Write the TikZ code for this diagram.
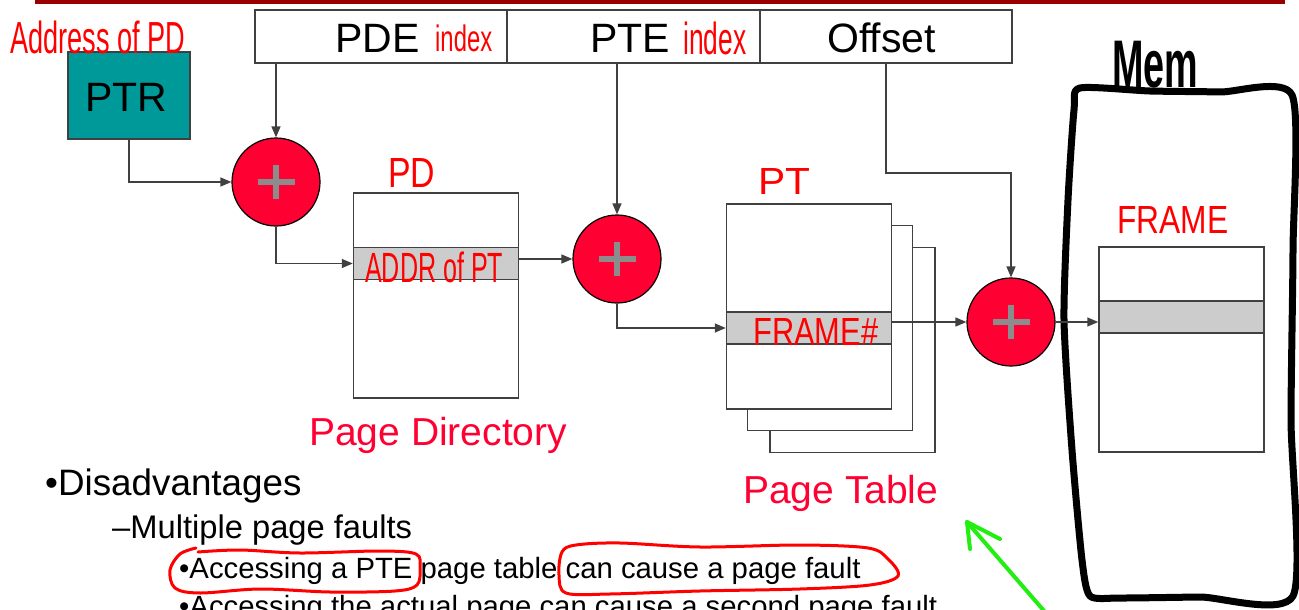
\documentclass[tikz,border=0pt]{standalone}
\usepackage{fontspec}
\setmainfont{Liberation Sans}
\usetikzlibrary{arrows.meta,calc}
\definecolor{barred}{HTML}{990000}
\definecolor{ptrteal}{HTML}{009999}
\definecolor{addred}{HTML}{FF0033}
\definecolor{plusgray}{HTML}{8C8C8C}
\definecolor{rowgray}{HTML}{CCCCCC}
\definecolor{edgegray}{HTML}{404040}
\definecolor{labelred}{HTML}{FF0033}
\definecolor{inkred}{HTML}{FF0000}
\definecolor{inkgreen}{HTML}{22EE11}
\newcommand\fsz[1]{\fontsize{#1}{#1}\selectfont}
% hand-written annotation squeezed into a given box
\newcommand\scribble[3]{\resizebox*{#1}{#2}{#3}}
\begin{document}
\begin{tikzpicture}[x=1pt,y=-1pt,
  field/.style={draw=edgegray,line width=1.5pt,fill=white,inner sep=0pt},
  tablebox/.style={draw=edgegray,line width=1.5pt,fill=white,inner sep=0pt,minimum width=165pt,minimum height=205pt},
  rowbox/.style={draw=edgegray,line width=1.5pt,fill=rowgray,inner sep=0pt,minimum width=165pt,minimum height=32pt},
  adder/.style={circle,draw=black,line width=1.2pt,fill=addred,minimum size=88pt,inner sep=0pt,
    path picture={
      \fill[plusgray] ([xshift=-18.5pt,yshift=-3pt]path picture bounding box.center) rectangle ++(37pt,6pt);
      \fill[plusgray] ([xshift=-3pt,yshift=-17pt]path picture bounding box.center) rectangle ++(6pt,34pt);
    }},
  link/.style={draw=edgegray,line width=1.5pt,-{Triangle[length=11pt,width=9pt]}},
  ink/.style={inner sep=0pt,anchor=north west,text=inkred},
  bigtxt/.style={inner sep=0pt,anchor=base west,font=\fsz{41}},
  caption/.style={inner sep=0pt,anchor=base west,font=\fsz{39},text=labelred},
  bullet/.style={inner sep=0pt,anchor=base west}
]
\useasboundingbox (0,0) rectangle (1299,610);

% slide title rule
\fill[barred] (35,0) rectangle (1285,4);

% virtual address fields
\node[field,minimum width=252pt,minimum height=53pt] (pde) at (381,36.5) {};
\node[field,minimum width=253pt,minimum height=53pt] (pte) at (633.5,36.5) {};
\node[field,minimum width=252pt,minimum height=53pt] (offset) at (886,36.5) {};
\node[bigtxt] (pdetxt) at (335,53) {PDE};
\node[bigtxt] (ptetxt) at (590,53) {PTE};
\node[bigtxt] (offtxt) at (827,53) {Offset};
\node[ink] (pdeidx) at (435,25) {\scribble{57pt}{27pt}{index}};
\node[ink] (pteidx) at (683,22) {\scribble{63pt}{33pt}{index}};

% page directory base register
\node[draw=edgegray,line width=1.5pt,fill=ptrteal,minimum width=122pt,minimum height=87pt,inner sep=0pt] (ptr) at (129,95.5) {};
\node[bigtxt] (ptrtxt) at (85,111) {PTR};
\node[ink] (addrpd) at (10,21) {\scribble{175pt}{33pt}{Address of PD}};

% adders
\node[adder] (a1) at (276,182) {};
\node[adder] (a2) at (617,259) {};
\node[adder] (a3) at (1011,322) {};

% page directory
\node[tablebox] (pd) at (436,295.5) {};
\node[rowbox] (pdrow) at (436,263.5) {};
\node[ink] (pdlbl) at (388,158) {\scribble{47pt}{29pt}{PD}};
\node[ink] (addrpt) at (365,252) {\scribble{138pt}{31pt}{ADDR of PT}};
\node[caption] (pdcap) at (309,445) {Page Directory};

% page tables (stack of three)
\node[tablebox] (pt3) at (852.5,350) {};
\node[tablebox] (pt2) at (830,328) {};
\node[tablebox] (pt) at (809,306.5) {};
\node[rowbox] (ptrow) at (809,328) {};
\node[ink] (ptlbl) at (758,168) {\scribble{52pt}{26pt}{PT}};
\node[ink] (framenum) at (753,318) {\scribble{125pt}{27pt}{FRAME\#}};
\node[caption] (ptcap) at (743,503) {Page Table};

% physical memory
\draw[line width=7pt,line join=round,line cap=round]
  plot[smooth cycle,tension=0.4] coordinates {
    (1080,88) (1150,91) (1220,92) (1292,95) (1293,250) (1291,420) (1293,596)
    (1200,597) (1120,598) (1090,596) (1082,560) (1072,450) (1064,320) (1068,200) (1074,110)};
\node[inner sep=0pt,anchor=north west] (memlbl) at (1112,41) {\scribble{86pt}{47pt}{\bfseries Mem}};
\node[tablebox] (frame) at (1181.5,349.5) {};
\node[rowbox] (framerow) at (1181.5,317) {};
\node[ink] (framelbl) at (1117,206) {\scribble{111pt}{27pt}{FRAME}};

% address translation flow
\draw[link] (a1 |- pde.south) -- (a1.north);
\draw[link] (ptr.south) |- (a1.west);
\draw[link] (a1.south) |- (pdrow.west);
\draw[link] (pdrow.east |- a2.west) -- (a2.west);
\draw[link] (a2 |- pte.south) -- (a2.north);
\draw[link] (a2.south) |- (ptrow.west);
\draw[link] (ptrow.east |- a3.west) -- (a3.west);
\draw[link] (offset.south) -- ++(0,109) -| (a3.north);
\draw[link] (a3.east) -- (framerow.west |- a3.east);

% notes
\node[bullet,font=\fsz{36.8}] (dis) at (45,495) {•Disadvantages};
\node[bullet,font=\fsz{32.7}] (multi) at (112,538) {–Multiple page faults};
\node[bullet,font=\fsz{29.3}] (acc1) at (179,578) {•Accessing a PTE page table can cause a page fault};
\node[bullet,font=\fsz{29.3}] (acc2) at (179,616) {•Accessing the actual page can cause a second page fault};

% red loops around phrases
\draw[inkred,line width=3pt,line cap=round]
  plot[smooth,tension=0.55] coordinates {
    (196,548) (180,554) (170,570) (175,588) (200,593) (260,589) (330,592) (395,591)
    (417,585) (420,568) (416,554) (380,551) (300,553) (240,550) (198,552)};
\draw[inkred,line width=3pt,line cap=round]
  plot[smooth cycle,tension=0.55] coordinates {
    (562,552) (559,575) (566,593) (610,594) (700,591) (800,589) (870,585) (898,576)
    (888,559) (868,548) (800,545) (700,547) (620,543) (576,545)};

% green pointer
\coordinate (gtail) at (1045,612);
\coordinate (gtip) at (967,522);
\coordinate (garm1) at (970,549);
\coordinate (garm2) at (1000,539);
\draw[inkgreen,line width=4pt,line cap=round] (gtail) -- (gtip);
\draw[inkgreen,line width=4pt,line cap=round,line join=round] (garm1) -- (gtip) -- (garm2);
\end{tikzpicture}
\end{document}
